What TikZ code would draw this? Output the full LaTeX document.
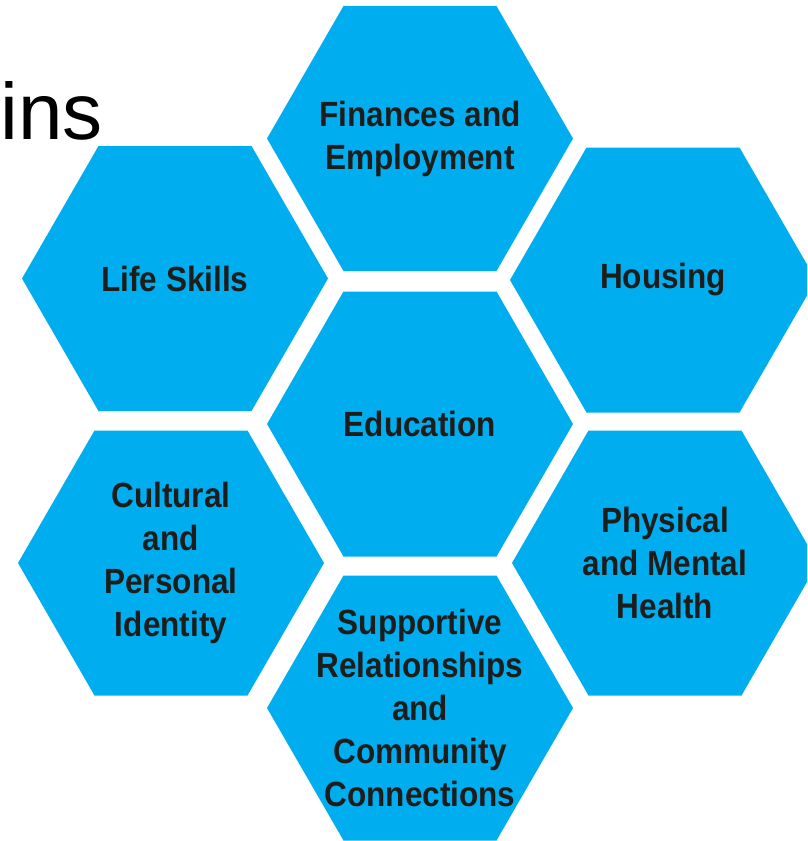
\documentclass[tikz,border=0pt]{standalone}
\usepackage{fontspec}
\setmainfont{Liberation Sans}
\newfontfamily\hexfont{Liberation Sans}[FakeStretch=0.9]
\usetikzlibrary{shapes.geometric}
\definecolor{hexblue}{HTML}{00AEEF}
\definecolor{hexink}{HTML}{1D1D1B}
\tikzset{
  hexcell/.style={regular polygon, regular polygon sides=6, minimum size=306pt,
    inner sep=0pt, outer sep=0pt, fill=hexblue, draw=none},
  hextext/.style={align=center, text=hexink, inner sep=0pt,
    font=\hexfont\bfseries\fontsize{35}{43}\selectfont},
  titletext/.style={anchor=base west, inner sep=0pt, text=black,
    font=\fontsize{80}{90}\selectfont}
}
\begin{document}
\begin{tikzpicture}[x=1pt,y=-1pt]
\useasboundingbox (0,0) rectangle (807,841);
\clip (0,0) rectangle (807,841);
\fill[white] (0,0) rectangle (807,841);
\node[titletext] (title) at (0.5,139) {ins};
\node[hexcell] (fin) at (420,138.5) {};
\node[hexcell] (life) at (175,278.5) {};
\node[hexcell] (hous) at (663,280) {};
\node[hexcell] (edu) at (420,424) {};
\node[hexcell] (cult) at (171,563) {};
\node[hexcell] (phys) at (665,563) {};
\node[hexcell] (supp) at (420,708) {};
\node[hextext] (fint) at (fin) {Finances and\\Employment};
\node[hextext] (lifet) at (life) {Life Skills};
\node[hextext] (houst) at (hous) {Housing};
\node[hextext] (edut) at (edu) {Education};
\node[hextext] (cultt) at (cult) {Cultural\\and\\Personal\\Identity};
\node[hextext] (physt) at (phys) {Physical\\and Mental\\Health};
\node[hextext] (suppt) at (supp) {Supportive\\Relationships\\and\\Community\\Connections};
\end{tikzpicture}
\end{document}
